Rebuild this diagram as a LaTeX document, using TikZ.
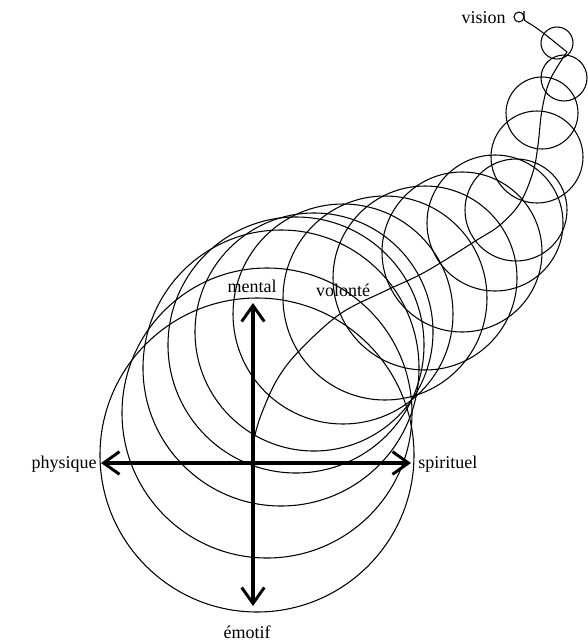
\documentclass[tikz,border=0pt]{standalone}
\usepackage{fontspec}
\setmainfont{Liberation Serif}
\usetikzlibrary{arrows.meta}
\begin{document}
\begin{tikzpicture}[x=0.75pt,y=-0.75pt,
  ring/.style={draw=black,line width=0.8pt},
  axisline/.style={line width=2.5pt,{Straight Barb[length=12pt,width=17pt,line width=2.2pt]}-{Straight Barb[length=12pt,width=17pt,line width=2.2pt]}},
  lbl/.style={font=\fontsize{13.5}{16}\selectfont,inner sep=0pt}]
\useasboundingbox (0,0) rectangle (588,643);
% circles (centre x, centre y, radius) in pixels
\foreach \cx/\cy/\r in {257/455/157, 267/413/145, 281/368/138, 296/345/128,
  314/332/119, 343/314/110, 385/298/102, 425/278/92, 462/252/80,
  495/223/68, 516/210/51, 537/157/46, 542/113/36, 564/78/23, 557/43/16}
  \draw[ring] (\cx,\cy) circle[radius=\r];
% spiral
\draw[ring] plot[smooth,tension=0.6] coordinates {(252,458) (255,435) (263,410)
  (278,378) (300,350) (340,314) (385,291) (425,272) (477,240) (500,225)
  (520,203) (533,172) (538,145) (542,110) (550,80) (567,52)}
  .. controls (552,40) and (538,28) .. (527,22)
  .. controls (525,21) and (524,20) .. (524,18) -- (524,11);
\draw[ring] (519,17) circle[radius=5];
% axes
\coordinate (L) at (101,463);
\coordinate (R) at (411,463);
\coordinate (T) at (253,303);
\coordinate (B) at (253,606);
\draw[axisline] (L) -- (R);
\draw[axisline] (T) -- (B);
% labels
\node[lbl,anchor=base] (mental) at (252,292) {mental};
\node[lbl,anchor=base] (volonte) at (343,296) {volonté};
\node[lbl,anchor=base east] (physique) at (97,468) {physique};
\node[lbl,anchor=base west] (spirituel) at (418,468) {spirituel};
\node[lbl,anchor=base] (emotif) at (247,638) {émotif};
\node[lbl,anchor=base east] (vision) at (506,23) {vision};
\end{tikzpicture}
\end{document}
